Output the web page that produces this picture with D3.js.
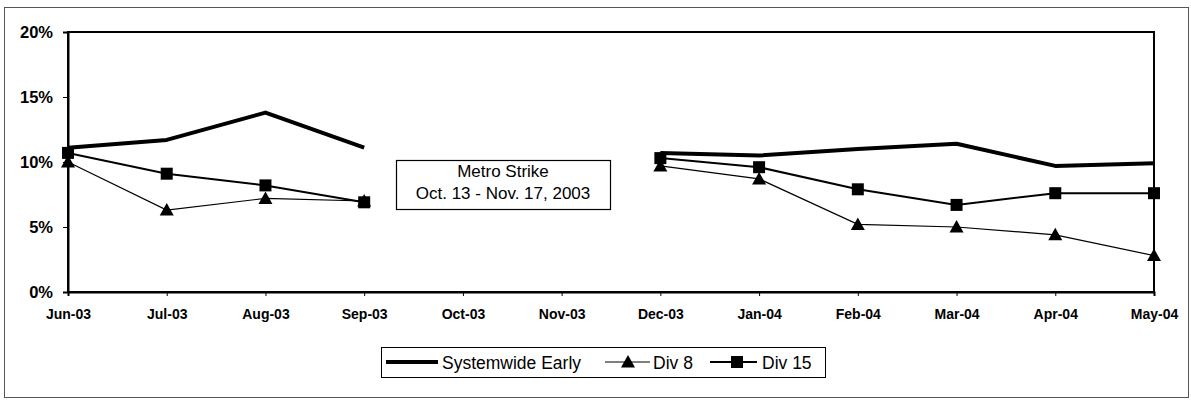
<!DOCTYPE html>
<html>
<head>
<meta charset="utf-8">
<script src="https://cdn.jsdelivr.net/npm/d3@7"></script>
<style>
  html, body { margin: 0; padding: 0; background: #fff; }
  svg { display: block; font-family: "Liberation Sans", Arial, sans-serif; }
</style>
</head>
<body>
<svg id="chart" width="1191" height="405"></svg>
<script>
const months = ["Jun-03","Jul-03","Aug-03","Sep-03","Oct-03","Nov-03","Dec-03","Jan-04","Feb-04","Mar-04","Apr-04","May-04"];
const yTicks = [0, 5, 10, 15, 20];
const systemwide = [11.1, 11.7, 13.8, 11.1, null, null, 10.7, 10.5, 11.0, 11.4, 9.7, 9.9];
const div8       = [10.0, 6.3, 7.2, 7.0, null, null, 9.7, 8.7, 5.2, 5.0, 4.4, 2.8];
const div15      = [10.7, 9.1, 8.2, 6.9, null, null, 10.3, 9.6, 7.9, 6.7, 7.6, 7.6];
const seriesNames = ["Systemwide Early", "Div 8", "Div 15"];
const annotationLines = ["Metro Strike", "Oct. 13 - Nov. 17, 2003"];

const svg = d3.select("#chart");
const plot = { left: 68, right: 1154, top: 32, bottom: 292 };

// outer frame
svg.append("rect").attr("x", 4.5).attr("y", 7.5).attr("width", 1184).attr("height", 390)
  .attr("fill", "#fff").attr("stroke", "#555").attr("stroke-width", 1);

const x = d3.scalePoint().domain(months).range([plot.left, plot.right]).padding(0);
const y = d3.scaleLinear().domain([0, 20]).range([plot.bottom, plot.top]);

// plot border
svg.append("rect").attr("x", plot.left).attr("y", plot.top)
  .attr("width", plot.right - plot.left).attr("height", plot.bottom - plot.top)
  .attr("fill", "none").attr("stroke", "#000").attr("stroke-width", 2);

// y axis
const yAxis = d3.axisLeft(y).tickValues(yTicks).tickFormat(d => d + "%").tickSize(5).tickPadding(10);
const gy = svg.append("g").attr("transform", `translate(${plot.left},0)`).call(yAxis);
gy.select(".domain").attr("stroke", "#000").attr("stroke-width", 2);
gy.selectAll(".tick line").attr("stroke", "#000").attr("stroke-width", 1);
gy.selectAll(".tick text").attr("fill", "#000").style("font-size", "16.5px").style("font-weight", "bold")
  .style("font-family", "'Liberation Sans', Arial, sans-serif");

// x axis
const xAxis = d3.axisBottom(x).tickSize(4).tickPadding(13);
const gx = svg.append("g").attr("transform", `translate(0,${plot.bottom})`).call(xAxis);
gx.select(".domain").attr("stroke", "#000").attr("stroke-width", 2);
gx.selectAll(".tick line").attr("stroke", "#000").attr("stroke-width", 1);
gx.selectAll(".tick text").attr("fill", "#000").style("font-size", "14px").style("font-weight", "bold")
  .style("font-family", "'Liberation Sans', Arial, sans-serif");

const line = d3.line()
  .defined(d => d.v !== null)
  .x(d => x(d.m))
  .y(d => y(d.v));

function toPts(arr) { return months.map((m, i) => ({ m, v: arr[i] })); }

const triPath = "M0,-7L7,5.5L-7,5.5Z";
const sqSize = 12;

// Div 8 line
svg.append("path").datum(toPts(div8)).attr("d", line)
  .attr("fill", "none").attr("stroke", "#000").attr("stroke-width", 1.2);
// Div 15 line
svg.append("path").datum(toPts(div15)).attr("d", line)
  .attr("fill", "none").attr("stroke", "#000").attr("stroke-width", 2);
// Systemwide line
svg.append("path").datum(toPts(systemwide)).attr("d", line)
  .attr("fill", "none").attr("stroke", "#000").attr("stroke-width", 4).attr("stroke-linejoin", "round");

// Div 8 markers
svg.append("g").selectAll("path").data(toPts(div8).filter(d => d.v !== null)).join("path")
  .attr("d", triPath).attr("transform", d => `translate(${x(d.m)},${y(d.v)})`).attr("fill", "#000");
// Div 15 markers
svg.append("g").selectAll("rect").data(toPts(div15).filter(d => d.v !== null)).join("rect")
  .attr("x", d => x(d.m) - sqSize / 2).attr("y", d => y(d.v) - sqSize / 2)
  .attr("width", sqSize).attr("height", sqSize).attr("fill", "#000");

// annotation box
const ann = svg.append("g");
ann.append("rect").attr("x", 396.5).attr("y", 160.5).attr("width", 214).attr("height", 49)
  .attr("fill", "#fff").attr("stroke", "#000").attr("stroke-width", 1.2);
ann.selectAll("text").data(annotationLines).join("text")
  .attr("x", 503).attr("y", (d, i) => 177 + i * 22)
  .attr("text-anchor", "middle").style("font-size", "17px").attr("fill", "#000").text(d => d);

// legend
const lg = svg.append("g");
lg.append("rect").attr("x", 381.5).attr("y", 347.5).attr("width", 444).attr("height", 30)
  .attr("fill", "#fff").attr("stroke", "#000").attr("stroke-width", 1);
const ly = 362;
const lfs = "17.5px";
lg.append("line").attr("x1", 386).attr("x2", 438).attr("y1", ly).attr("y2", ly)
  .attr("stroke", "#000").attr("stroke-width", 4);
lg.append("text").attr("x", 442).attr("y", ly + 6.5).style("font-size", lfs).text(seriesNames[0]);
lg.append("line").attr("x1", 605).attr("x2", 650).attr("y1", ly).attr("y2", ly)
  .attr("stroke", "#000").attr("stroke-width", 1.2);
lg.append("path").attr("d", triPath).attr("transform", `translate(628,${ly})`).attr("fill", "#000");
lg.append("text").attr("x", 653).attr("y", ly + 6.5).style("font-size", lfs).text(seriesNames[1]);
lg.append("line").attr("x1", 710).attr("x2", 757).attr("y1", ly).attr("y2", ly)
  .attr("stroke", "#000").attr("stroke-width", 2);
lg.append("rect").attr("x", 737 - 6).attr("y", ly - 6).attr("width", 12).attr("height", 12).attr("fill", "#000");
lg.append("text").attr("x", 762).attr("y", ly + 6.5).style("font-size", lfs).text(seriesNames[2]);
</script>
</body>
</html>
